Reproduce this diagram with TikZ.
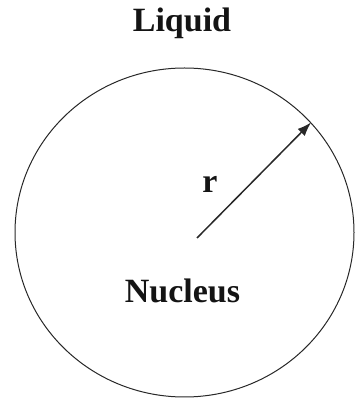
\documentclass[tikz,border=0pt]{standalone}
\usepackage{fontspec}
\setmainfont{Liberation Serif}
\usetikzlibrary{arrows.meta,positioning,shapes.geometric,calc}
\definecolor{outline}{RGB}{40,40,40}
\definecolor{textdark}{RGB}{20,20,20}

\begin{document}
\begin{tikzpicture}[
  x=1pt, y=1pt,
  >=Latex,
  font=\bfseries,
  sphere/.style={draw=outline, ellipse, line width=1pt,
    minimum width=339pt, minimum height=329pt, inner sep=0pt},
  caption/.style={font=\fontsize{34}{40}\selectfont\bfseries, text=textdark},
  rarrow/.style={-{Latex[length=14pt,width=10pt]}, line width=1.5pt, color=outline}
]
\useasboundingbox (0,0) rectangle (358,407);
\node[sphere] (nucleus) at (184.5,174.5) {};
\node[caption] (liquid) at (182,384) {Liquid};
\node[caption] (core) at (182.5,116) {Nucleus};
\coordinate (rstart) at ([shift={(12.5,-5.5)}]nucleus.center);
\draw[rarrow] (rstart) -- (nucleus.41);
\node[caption] (rlabel) at (210,223) {r};
\end{tikzpicture}
\end{document}
